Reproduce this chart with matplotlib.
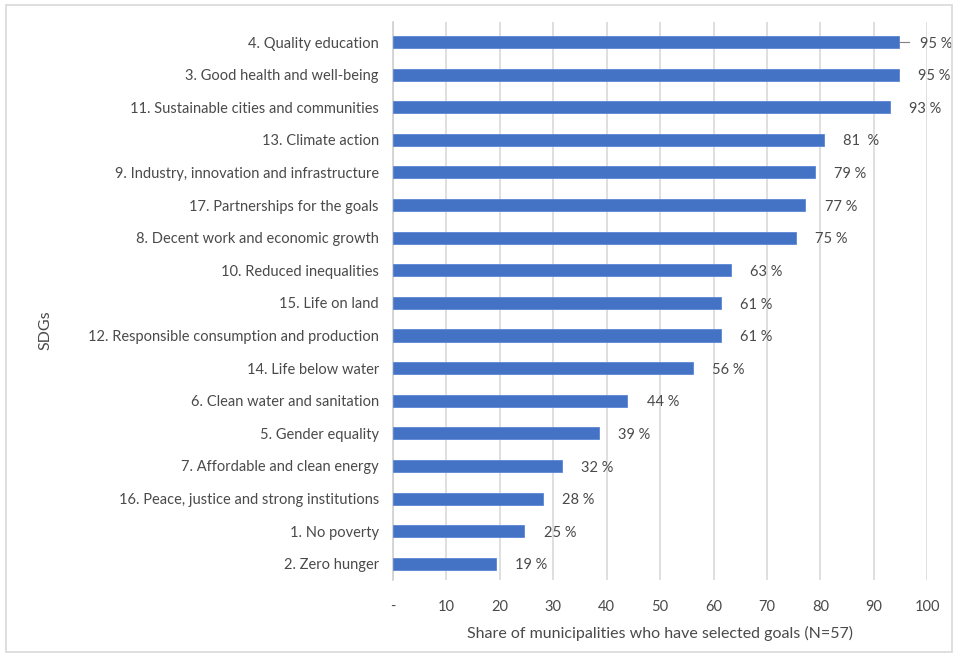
import matplotlib.pyplot as plt
from matplotlib.patches import Rectangle

plt.rcParams['font.family'] = ['Lato', 'DejaVu Sans']

goals = [
    "4. Quality education",
    "3. Good health and well-being",
    "11. Sustainable cities and communities",
    "13. Climate action",
    "9. Industry, innovation and infrastructure",
    "17. Partnerships for the goals",
    "8. Decent work and economic growth",
    "10. Reduced inequalities",
    "15. Life on land",
    "12. Responsible consumption and production",
    "14. Life below water",
    "6. Clean water and sanitation",
    "5. Gender equality",
    "7. Affordable and clean energy",
    "16. Peace, justice and strong institutions",
    "1. No poverty",
    "2. Zero hunger",
]
shares = [94.7, 94.7, 93.0, 80.7, 78.9, 77.2, 75.4, 63.2, 61.4, 61.4,
          56.1, 43.9, 38.6, 31.6, 28.1, 24.6, 19.3]
labels = ["95 %", "95 %", "93 %", "81  %", "79 %", "77 %", "75 %", "63 %", "61 %",
          "61 %", "56 %", "44 %", "39 %", "32 %", "28 %", "25 %", "19 %"]
xticks = [0, 10, 20, 30, 40, 50, 60, 70, 80, 90, 100]
xticklabels = ["-", "10", "20", "30", "40", "50", "60", "70", "80", "90", "100"]

txt = "#4a4a4a"
fig = plt.figure(figsize=(9.58, 6.6), dpi=100)
ax = fig.add_axes([0.410, 0.121, 0.558, 0.846])

pos = list(range(len(goals)))
ax.barh(pos, shares, height=0.37, color="#4472C4", edgecolor="#5B86D4", linewidth=0.6, zorder=3)

for i, (v, lab) in enumerate(zip(shares, labels)):
    if i == 0:
        # leader line for the first label
        ax.plot([v, v + 1.8], [i, i], color="#808080", lw=0.8, zorder=3)
        ax.text(v + 4.0, i + 0.05, lab, va="center", ha="left", fontsize=10.5, color=txt)
    else:
        ax.text(v + 3.6, i + 0.05, lab, va="center", ha="left", fontsize=10.5, color=txt)

ax.set_xlim(0, 100)
ax.set_ylim(len(goals) - 0.5, -0.62)
ax.set_yticks(pos)
ax.set_yticklabels(goals, fontsize=10.5, color=txt)
ax.set_xticks(xticks)
ax.set_xticklabels(xticklabels, fontsize=10.5, color=txt)
ax.tick_params(axis="both", length=0)
ax.tick_params(axis="y", pad=10)
ax.tick_params(axis="x", pad=14)
ax.grid(axis="x", color="#D9D9D9", lw=1.2, zorder=0)
ax.set_axisbelow(True)
for s in ["top", "right", "bottom"]:
    ax.spines[s].set_visible(False)
ax.spines["left"].set_color("#D0D0D0")
ax.spines["left"].set_linewidth(1.2)

ax.set_xlabel("Share of municipalities who have selected goals (N=57)", fontsize=11.5, color=txt, labelpad=9)
fig.text(0.047, 0.5, "SDGs", rotation=90, va="center", ha="center", fontsize=11.5, color=txt)

fig.patches.append(Rectangle((0.006, 0.012), 0.988, 0.980, transform=fig.transFigure,
                             fill=False, edgecolor="#D9D9D9", lw=1.2))

fig.savefig("out.png", dpi=100)
